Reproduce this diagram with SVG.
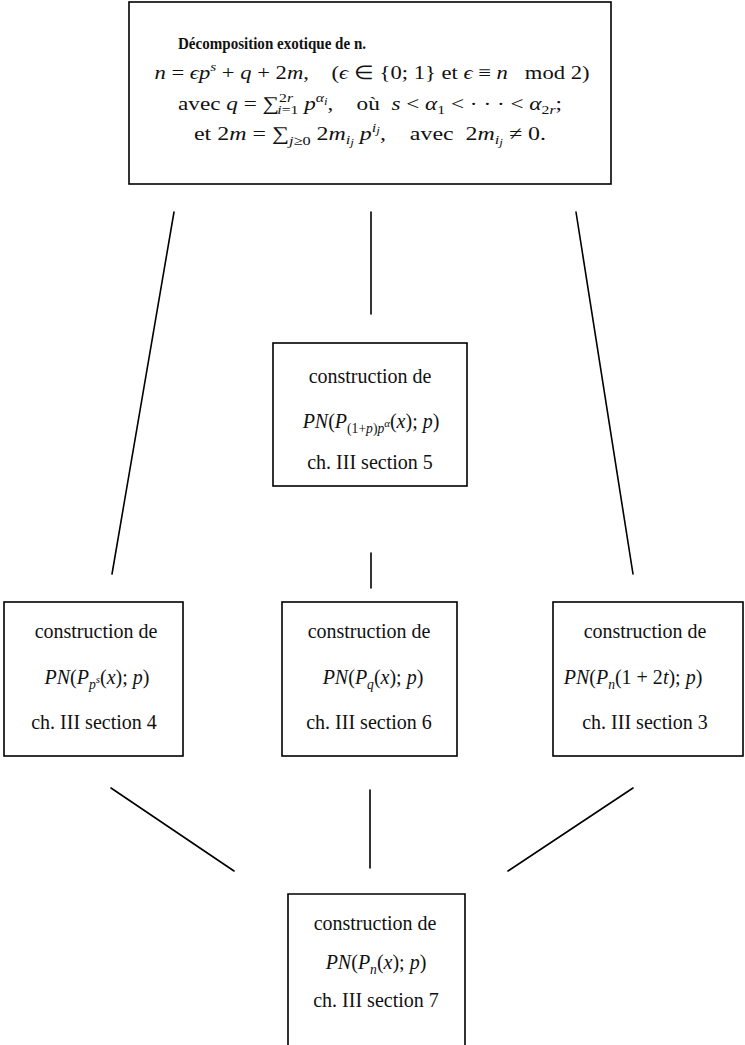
<svg xmlns="http://www.w3.org/2000/svg" width="745" height="1045" viewBox="0 0 745 1045">
<style>
.box{fill:none;stroke:#000;stroke-width:1.6}
.ln{fill:none;stroke:#000;stroke-width:1.6;stroke-linecap:round}
text{font-family:"Liberation Serif","Times New Roman",serif;fill:#111}
.i{font-style:italic}
.b{font-weight:bold}
.s{font-size:68%}
.t{font-size:19px}
.r{font-size:20px}
</style>
<rect width="745" height="1045" fill="#fff"/>
<g id="connectors">
<line class="ln" x1="174" y1="212" x2="112" y2="574"/>
<line class="ln" x1="371" y1="212" x2="371" y2="314"/>
<line class="ln" x1="576" y1="212" x2="633" y2="574"/>
<line class="ln" x1="371" y1="553" x2="371" y2="588"/>
<line class="ln" x1="111" y1="788" x2="234" y2="871"/>
<line class="ln" x1="370" y1="790" x2="370" y2="868"/>
<line class="ln" x1="633" y1="788" x2="508" y2="871"/>
</g>
<g id="top">
<rect class="box" x="129" y="2" width="482" height="182"/>
<text class="b" font-size="17.5" x="178" y="49" textLength="188" lengthAdjust="spacingAndGlyphs">Décomposition exotique de n.</text>
<text class="t" x="372" y="79" text-anchor="middle" textLength="435" lengthAdjust="spacingAndGlyphs"><tspan class="i">n</tspan> = <tspan class="i">ϵp</tspan><tspan class="s i" dy="-8">s</tspan><tspan dy="8"> + </tspan><tspan class="i">q</tspan> + 2<tspan class="i">m</tspan>,&#8195;(<tspan class="i">ϵ</tspan> ∈ {0; 1} et <tspan class="i">ϵ</tspan> ≡ <tspan class="i">n</tspan>&#8194; mod 2)</text>
<text class="t" x="370" y="110" text-anchor="middle" textLength="384" lengthAdjust="spacingAndGlyphs">avec <tspan class="i">q</tspan> = ∑<tspan class="s" dy="-8">2<tspan class="i">r</tspan></tspan><tspan class="s" dx="-13" dy="12"><tspan class="i">i</tspan>=1</tspan><tspan dy="-4"> </tspan><tspan class="i">p</tspan><tspan class="s i" dy="-8">α<tspan font-size="80%" dy="3">i</tspan></tspan><tspan dy="5">,&#8195;où&#8194;</tspan><tspan class="i">s</tspan> &lt; <tspan class="i">α</tspan><tspan class="s" dy="4">1</tspan><tspan dy="-4"> &lt; · · · &lt; </tspan><tspan class="i">α</tspan><tspan class="s" dy="4">2<tspan class="i">r</tspan></tspan><tspan dy="-4">;</tspan></text>
<text class="t" x="370" y="140" text-anchor="middle" textLength="352" lengthAdjust="spacingAndGlyphs">et 2<tspan class="i">m</tspan> = ∑<tspan class="s i" dy="5">j</tspan><tspan class="s">≥0</tspan><tspan dy="-5"> 2</tspan><tspan class="i">m</tspan><tspan class="s i" dy="4">i<tspan font-size="80%" dy="2">j</tspan></tspan><tspan dy="-6"> </tspan><tspan class="i">p</tspan><tspan class="s i" dy="-8">i<tspan font-size="80%" dy="2">j</tspan></tspan><tspan dy="6">,&#8195;avec&#8194;2</tspan><tspan class="i">m</tspan><tspan class="s i" dy="4">i<tspan font-size="80%" dy="2">j</tspan></tspan><tspan dy="-6"> ≠ 0.</tspan></text>
</g>
<g id="mid">
<rect class="box" x="273" y="343" width="194" height="143"/>
<text class="r" x="370" y="383" text-anchor="middle">construction de</text>
<text class="r" x="371" y="428" text-anchor="middle"><tspan class="i">PN</tspan>(<tspan class="i">P</tspan><tspan class="s" dy="5">(1+<tspan class="i">p</tspan>)<tspan class="i">p</tspan><tspan class="i" font-size="80%" dy="-6">α</tspan></tspan><tspan dy="1">(</tspan><tspan class="i">x</tspan>); <tspan class="i">p</tspan>)</text>
<text class="r" x="370" y="469" text-anchor="middle">ch. III section 5</text>
</g>
<g id="left">
<rect class="box" x="4" y="602" width="179" height="154"/>
<text class="r" x="96" y="638" text-anchor="middle">construction de</text>
<text class="r" x="97" y="684" text-anchor="middle"><tspan class="i">PN</tspan>(<tspan class="i">P</tspan><tspan class="s i" dy="5">p<tspan font-size="80%" dy="-6">s</tspan></tspan><tspan dy="1">(</tspan><tspan class="i">x</tspan>); <tspan class="i">p</tspan>)</text>
<text class="r" x="94" y="729" text-anchor="middle">ch. III section 4</text>
</g>
<g id="center">
<rect class="box" x="282" y="602" width="175" height="154"/>
<text class="r" x="369" y="638" text-anchor="middle">construction de</text>
<text class="r" x="373" y="684" text-anchor="middle"><tspan class="i">PN</tspan>(<tspan class="i">P</tspan><tspan class="s i" dy="5">q</tspan><tspan dy="-5">(</tspan><tspan class="i">x</tspan>); <tspan class="i">p</tspan>)</text>
<text class="r" x="369" y="729" text-anchor="middle">ch. III section 6</text>
</g>
<g id="right">
<rect class="box" x="553" y="602" width="190" height="154"/>
<text class="r" x="645" y="638" text-anchor="middle">construction de</text>
<text class="r" x="633" y="684" text-anchor="middle"><tspan class="i">PN</tspan>(<tspan class="i">P</tspan><tspan class="s i" dy="5">n</tspan><tspan dy="-5">(1 + 2</tspan><tspan class="i">t</tspan>); <tspan class="i">p</tspan>)</text>
<text class="r" x="645" y="729" text-anchor="middle">ch. III section 3</text>
</g>
<g id="bottom">
<path class="box" d="M288,1045 V894 H465 V1045"/>
<text class="r" x="375" y="930" text-anchor="middle">construction de</text>
<text class="r" x="376" y="969" text-anchor="middle"><tspan class="i">PN</tspan>(<tspan class="i">P</tspan><tspan class="s i" dy="5">n</tspan><tspan dy="-5">(</tspan><tspan class="i">x</tspan>); <tspan class="i">p</tspan>)</text>
<text class="r" x="376" y="1007" text-anchor="middle">ch. III section 7</text>
</g>
</svg>
